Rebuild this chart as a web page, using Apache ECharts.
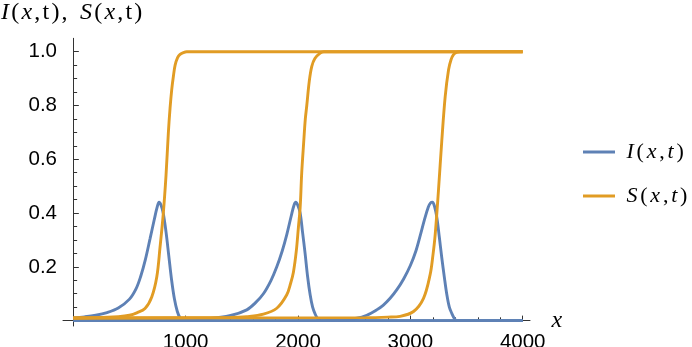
<!DOCTYPE html>
<html><head><meta charset="utf-8">
<script src="https://cdn.jsdelivr.net/npm/echarts@6/dist/echarts.min.js"></script>
<style>html,body{margin:0;padding:0;background:#fff}#c{width:692px;height:347px}</style>
</head><body><div id="c"></div>
<script>
// ---- data ----
const I1 = [[0,0.01],[100,0.014],[200,0.02],[300,0.03],[400,0.047],[500,0.08],[560,0.12],[600,0.165],[640,0.225],[683,0.305],[720,0.375],[745,0.42],[763,0.44],[780,0.43],[800,0.40],[825,0.33],[850,0.24],[875,0.15],[900,0.08],[925,0.035],[950,0.01],[975,0.002],[1000,0],[4000,0]];
const I2 = [[0,0],[1000,0.003],[1200,0.007],[1400,0.019],[1544,0.04],[1620,0.066],[1692,0.1],[1760,0.15],[1811,0.2],[1860,0.26],[1900,0.32],[1940,0.39],[1965,0.43],[1980,0.44],[1997,0.43],[2019,0.40],[2040,0.33],[2063,0.25],[2085,0.165],[2108,0.096],[2130,0.05],[2152,0.025],[2175,0.007],[2197,0],[4000,0]];
const I3 = [[0,0],[2200,0],[2400,0.004],[2523,0.009],[2612,0.02],[2700,0.04],[2760,0.058],[2820,0.083],[2880,0.115],[2940,0.155],[3000,0.205],[3050,0.26],[3090,0.32],[3125,0.375],[3160,0.423],[3180,0.438],[3197,0.44],[3215,0.425],[3236,0.383],[3258,0.31],[3280,0.233],[3303,0.16],[3325,0.096],[3347,0.05],[3369,0.027],[3392,0.008],[3414,0],[4000,0]];
const S1 = [[0,0.01],[200,0.011],[400,0.015],[500,0.02],[565,0.029],[638,0.045],[698,0.088],[743,0.163],[772,0.274],[801,0.40],[825,0.54],[846,0.70],[861,0.79],[876,0.86],[891,0.91],[906,0.95],[928,0.978],[950,0.99],[980,0.997],[1010,1],[4000,1]];
const S2 = [[0,0.01],[1400,0.012],[1544,0.015],[1692,0.024],[1811,0.046],[1900,0.096],[1935,0.14],[1959,0.18],[1985,0.26],[2004,0.35],[2019,0.42],[2033,0.55],[2050,0.66],[2065,0.75],[2078,0.80],[2100,0.89],[2122,0.945],[2150,0.975],[2197,0.995],[2230,1],[4000,1]];
const S3 = [[0,0.01],[2600,0.011],[2800,0.013],[2909,0.016],[3028,0.034],[3117,0.083],[3176,0.171],[3200,0.24],[3221,0.32],[3250,0.483],[3280,0.67],[3310,0.833],[3340,0.933],[3362,0.97],[3384,0.989],[3410,0.997],[3443,1],[4000,1]];

const xMajorTicks = [1000, 2000, 3000, 4000];
const xMinorTicks = [200,400,600,800,1200,1400,1600,1800,2200,2400,2600,2800,3200,3400,3600,3800];
const yMajorTicks = [0.2, 0.4, 0.6, 0.8, 1.0];
const yMinorTicks = [0.05,0.1,0.15,0.25,0.3,0.35,0.45,0.5,0.55,0.65,0.7,0.75,0.85,0.9,0.95];
const seriesNames = ['I', 'S'];
const titleText = '{i|I}{n|(}{i|x}{n|,}{n|t}{n|)}{n|,}{sp| }{i|S}{n|(}{i|x}{n|,}{n|t}{n|)}';

// ---- styling ----
const blue = '#5E81B5', orange = '#E19C24', axisColor = '#333';
const serif = 'Liberation Serif', sans = 'Liberation Sans';
const XMIN = -92, XMAX = 4065, YMIN = -0.02, YMAX = 1.05;
function richSet(size, pad) {
  return {
    i: {fontFamily: serif, fontStyle: 'italic', fontWeight: 'normal', fontSize: size, color: '#000', padding: [0, pad, 0, pad]},
    n: {fontFamily: serif, fontWeight: 'normal', fontSize: size, color: '#000', padding: [0, pad, 0, pad]},
    sp: {fontFamily: serif, fontWeight: 'normal', fontSize: size, color: '#000', padding: [0, pad + 1, 0, pad + 1]}
  };
}
const onZero = {onZero: true, onZeroAxisIndex: 0};

function line(name, data, color) {
  return {type: 'line', name: name, data: data, showSymbol: false, symbol: 'none',
    smooth: 0.35, animation: false,
    lineStyle: {color: color, width: 2.9}, itemStyle: {color: color},
    xAxisIndex: 0, yAxisIndex: 0, z: 3};
}

const chart = echarts.init(document.getElementById('c'), null, {renderer: 'canvas'});
chart.setOption({
  animation: false,
  backgroundColor: '#fff',
  title: {
    left: 0, top: 1, padding: 0,
    text: titleText,
    textStyle: {fontWeight: 'normal', fontSize: 24, rich: richSet(24, 1.1)}
  },
  legend: {
    orient: 'vertical', left: 583, top: 140, padding: 0, itemGap: 20,
    itemWidth: 32, itemHeight: 3, icon: 'rect',
    data: seriesNames,
    formatter: function (n) { return '{i|' + n + '}{n|(}{i|x}{n|,}{i|t}{n|)}'; },
    textStyle: {padding: [0, 0, 0, 5], lineHeight: 24, fontSize: 22, rich: richSet(22, 1.4)}
  },
  grid: {left: 63, right: 162, top: 38.3, bottom: 21, containLabel: false, outerBoundsMode: 'none'},
  xAxis: [{
    type: 'value', min: XMIN, max: XMAX, position: 'bottom',
    axisLine: Object.assign({lineStyle: {color: axisColor, width: 1}}, onZero),
    axisTick: {inside: true, length: 5, customValues: xMajorTicks, lineStyle: {color: axisColor}},
    axisLabel: {customValues: xMajorTicks, margin: 6, fontSize: 20.5, fontFamily: sans, color: '#000',
      formatter: function (v) { return String(v); }},
    splitLine: {show: false},
    name: 'x', nameLocation: 'end', nameGap: 6,
    nameTextStyle: {fontFamily: serif, fontStyle: 'italic', fontSize: 24, color: '#000', verticalAlign: 'middle'}
  }, {
    type: 'value', min: XMIN, max: XMAX, position: 'bottom',
    axisLine: Object.assign({show: true, lineStyle: {opacity: 0}}, onZero),
    axisTick: {inside: true, length: 3.3, customValues: xMinorTicks, lineStyle: {color: axisColor}},
    axisLabel: {show: false}, splitLine: {show: false}
  }],
  yAxis: [{
    type: 'value', min: YMIN, max: YMAX, position: 'left',
    axisLine: Object.assign({show: true, lineStyle: {color: axisColor, width: 1}}, onZero),
    axisTick: {inside: true, length: 5.5, customValues: yMajorTicks, lineStyle: {color: axisColor}},
    axisLabel: {customValues: yMajorTicks, margin: 6, fontSize: 20.5, fontFamily: sans, color: '#000',
      formatter: function (v) { return v.toFixed(1); }},
    splitLine: {show: false}
  }, {
    type: 'value', min: YMIN, max: YMAX, position: 'left',
    axisLine: Object.assign({show: true, lineStyle: {opacity: 0}}, onZero),
    axisTick: {inside: true, length: 3.8, customValues: yMinorTicks, lineStyle: {color: axisColor}},
    axisLabel: {show: false}, splitLine: {show: false}
  }],
  series: [
    line('I', I1, blue), line('I', I2, blue), line('I', I3, blue),
    line('S', S1, orange), line('S', S2, orange), line('S', S3, orange)
  ]
});
</script>
</body></html>
